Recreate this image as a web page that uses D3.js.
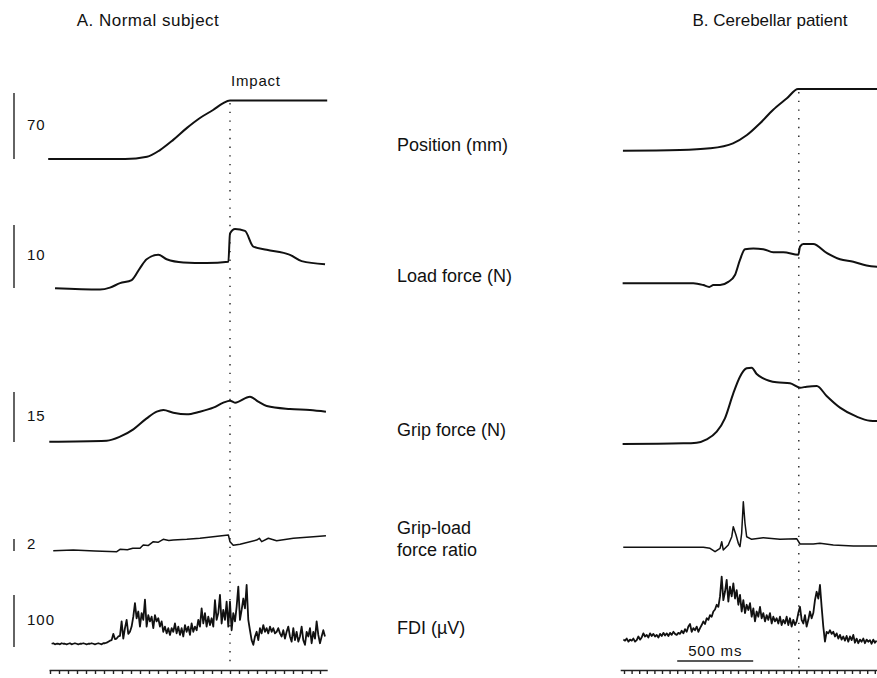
<!DOCTYPE html>
<html>
<head>
<meta charset="utf-8">
<script src="https://cdn.jsdelivr.net/npm/d3@7"></script>
<style>
  body { margin: 0; background: #fff; }
  text { font-family: "Liberation Sans", Arial, sans-serif; fill: #111; }
</style>
</head>
<body>
<script>
// time in ms from start of trace, values in the row's units
const impactA = 1000, impactB = 1150;

const positionA = [[-10,0],[417,0],[539,2.4],[611,9.5],[683,20],[761,33],[833,43.5],[906,52],[960,59],[1000,62],[1540,62]];
const positionB = [[-7,8.8],[368,9.5],[566,11.3],[717,16.6],[809,25.4],[895,37.9],[980,52],[1072,64.4],[1145,74.2],[1670,74.2]];

const loadA = [[28,0.6],[278,0.4],[333,0.7],[389,1.4],[454,1.9],[500,3.8],[537,5.2],[602,5.9],[648,5.2],[741,4.7],[870,4.6],[991,4.8],[1000,9.3],[1028,10.0],[1083,9.7],[1130,7.2],[1204,6.7],[1333,5.9],[1398,4.9],[1528,4.4]];
const loadB = [[-9,1.4],[456,1.4],[522,1.1],[561,0.8],[588,1.1],[632,1.1],[686,1.6],[730,2.7],[763,5.1],[796,6.8],[851,6.9],[916,6.8],[982,6.3],[1048,6.3],[1147,5.9],[1158,7.2],[1180,7.6],[1245,7.6],[1333,6.2],[1421,5.2],[1509,4.8],[1596,4.2],[1670,4.0]];

const gripA = [[-4,1.3],[315,1.6],[389,2.8],[463,5.0],[537,8.3],[593,10.3],[630,10.8],[685,10.0],[759,9.5],[833,10.3],[907,11.5],[963,13.0],[1000,13.6],[1028,13.0],[1111,14.8],[1157,13.3],[1204,12.0],[1333,11.1],[1444,10.8],[1533,10.3]];
const gripB = [[-9,0.6],[390,0.8],[478,1.0],[544,2.0],[610,4.3],[664,8.3],[719,15.8],[763,20.8],[807,23.3],[840,23.5],[873,21.6],[916,20.3],[1004,19.1],[1092,18.8],[1158,17.5],[1202,17.8],[1268,18.0],[1333,15.0],[1421,11.5],[1531,8.8],[1618,7.6],[1670,7.5]];

const ratioA = [[18,2.05],[129,2.17],[250,2.0],[371,1.88],[389,2.28],[430,2.2],[460,2.45],[500,2.45],[518,3.0],[545,2.9],[574,3.55],[600,3.45],[629,3.95],[660,3.75],[685,3.83],[760,3.95],[833,4.12],[991,4.67],[1000,3.55],[1018,2.95],[1056,3.12],[1148,3.83],[1163,4.12],[1176,3.55],[1213,4.12],[1259,3.72],[1352,4.12],[1463,4.38],[1533,4.55]];
const ratioB = [[-5,2.62],[522,2.62],[566,2.45],[599,1.88],[632,2.45],[643,3.55],[653,2.17],[686,3.0],[709,4.38],[719,6.05],[737,4.67],[752,3.28],[763,2.72],[774,4.95],[785,10.2],[796,6.62],[807,4.38],[840,3.95],[916,4.22],[1026,3.95],[1136,4.05],[1158,3.17],[1245,3.17],[1289,3.28],[1377,3.0],[1509,2.83],[1670,2.83]];

// FDI EMG, sampled on a regular grid
const fdiAStart = 9, fdiAStep = 9.26;
const fdiA = [12,13,11,12,12,11,13,12,12,11,12,13,11,12,13,12,11,12,12,13,12,11,12,12,13,12,11,12,13,12,11,13,
  13,14,16,18,19,31,21,22,26,27, 55,22,42,58,31,35,45,64,90,61, 74,45,71,58,97,45,67,55,64,42,
  67,55,61,45,55,35,45,32,42,29, 42,35,51,32,45,29,42,26,48,35, 45,29,51,35,45,38,58,45,80,51,
  71,45,64,48,61,45,96,58,71,106, 51,77,58,93,45,93,38,71,55,83, 122,58,77,99,80,125,58,38,19,10,
  26,35,19,42,32,48,35,42,32,45, 35,42,32,35,42,32,26,38,22,35, 45,26,16,42,19,35,16,26,45,19,
  10,35,26,42,13,35,22,55,29,13, 26,38,26];
const fdiBStart = -4, fdiBStep = 10.96;
const fdiB = [20,18,22,16,20,18,22,16,19,26, 20,24,32,26,29,24,32,27,31,26, 29,24,31,27,33,28,32,27,33,29,
  35,31,29,33,31,37,32,40,35,45, 50,35,42,38,45,35,42,48,55,50, 61,58,67,64,74,78,87,83,103,141,
  96,112,135,93,122,103,128,99,115,87, 106,74,96,71,87,77,90,64,80,55, 74,64,83,61,71,55,67,58,71,51,
  64,55,61,51,64,48,58,51,64,48, 61,45,58,48,55,71,83,58,51,67, 45,58,74,61,71,96,112,99,125,83,
  45,16,35,32,38,31,35,26,32,22, 29,20,26,18,27,16,26,19,29,14, 22,13,20,16,22,13,20,16,19,12,
  20,14,18];

const scaleLabels = ["70", "10", "15", "2", "100"];
const rowLabels = [["Position (mm)"], ["Load force (N)"], ["Grip force (N)"], ["Grip-load", "force ratio"], ["FDI (\u00b5V)"]];
const titles = ["A. Normal subject", "B. Cerebellar patient"];

const width = 877, height = 678;
const svg = d3.select("body").append("svg")
  .attr("width", width).attr("height", height);
svg.append("rect").attr("width", width).attr("height", height).attr("fill", "#fff");

const xA = d3.scaleLinear().domain([0, 1500]).range([50, 320]);
const xB = d3.scaleLinear().domain([0, 1000]).range([624, 776]);

const toPts = (vals, t0, dt) => vals.map((v, i) => [t0 + i * dt, v]);

const rows = [
  { bar: 70,  barPx: 66, yZero: 159, barBottom: 159, labelY: 151, a: positionA, b: positionB, curve: d3.curveMonotoneX, sw: 2 },
  { bar: 10,  barPx: 63, yZero: 292, barBottom: 288, labelY: 282, a: loadA, b: loadB, curve: d3.curveMonotoneX, sw: 2 },
  { bar: 15,  barPx: 50, yZero: 446, barBottom: 442, labelY: 436, a: gripA, b: gripB, curve: d3.curveMonotoneX, sw: 2 },
  { bar: 2,   barPx: 12, yZero: 563, barBottom: 551, labelY: 534, a: ratioA, b: ratioB, curve: d3.curveLinear, sw: 1.5 },
  { bar: 100, barPx: 52, yZero: 650, barBottom: 647, labelY: 634, a: toPts(fdiA, fdiAStart, fdiAStep), b: toPts(fdiB, fdiBStart, fdiBStep), curve: d3.curveLinear, sw: 1.8 }
];

// titles
svg.append("text").attr("x", 148).attr("y", 26).attr("text-anchor", "middle")
  .style("font-size", "17px").style("letter-spacing", "0.5px").text(titles[0]);
svg.append("text").attr("x", 770).attr("y", 26).attr("text-anchor", "middle")
  .style("font-size", "17px").text(titles[1]);

// impact markers
[[xA(impactA), 103], [xB(impactB), 92]].forEach(([x, y1]) => {
  svg.append("line").attr("x1", x).attr("x2", x).attr("y1", y1).attr("y2", 668)
    .attr("stroke", "#222").attr("stroke-width", 1.4).attr("stroke-dasharray", "1.4,7.3");
});
svg.append("text").attr("x", xA(impactA) + 1).attr("y", 86)
  .style("font-size", "15px").style("letter-spacing", "0.8px").text("Impact");

rows.forEach((r, i) => {
  const y = d3.scaleLinear().domain([0, r.bar]).range([r.yZero, r.yZero - r.barPx]);
  const len = y(0) - y(r.bar);

  // calibration bar + number
  svg.append("line").attr("x1", 14).attr("x2", 14)
    .attr("y1", r.barBottom).attr("y2", r.barBottom - len)
    .attr("stroke", "#222").attr("stroke-width", 1.4);
  svg.append("text").attr("x", 27).attr("y", r.barBottom - len / 2)
    .attr("dominant-baseline", "middle").style("font-size", "15px")
    .style("letter-spacing", "1px").text(scaleLabels[i]);

  // middle label
  rowLabels[i].forEach((s, k) => {
    svg.append("text").attr("x", 397).attr("y", r.labelY + k * 22)
      .style("font-size", "18px").text(s);
  });

  const lineA = d3.line().x(d => xA(d[0])).y(d => y(d[1])).curve(r.curve);
  const lineB = d3.line().x(d => xB(d[0])).y(d => y(d[1])).curve(r.curve);
  svg.append("path").attr("d", lineA(r.a)).attr("fill", "none")
    .attr("stroke", "#111").attr("stroke-width", r.sw).attr("stroke-linejoin", "round");
  svg.append("path").attr("d", lineB(r.b)).attr("fill", "none")
    .attr("stroke", "#111").attr("stroke-width", r.sw).attr("stroke-linejoin", "round");
});

// time axes, 50 ms ticks
const axA = xA.copy().domain([-5, 1540]).range([xA(-5), xA(1540)]);
svg.append("g").attr("transform", "translate(0,670)")
  .call(d3.axisBottom(axA).tickValues(d3.range(0, 1501, 50)).tickSize(4).tickSizeOuter(0).tickFormat(""))
  .call(g => g.selectAll("path,line").attr("stroke", "#222").attr("stroke-width", 1.4));
const axB = xB.copy().domain([-25, 1670]).range([xB(-25), xB(1670)]);
svg.append("g").attr("transform", "translate(0,670)")
  .call(d3.axisBottom(axB).tickValues(d3.range(0, 1670, 50)).tickSize(4).tickSizeOuter(0).tickFormat(""))
  .call(g => g.selectAll("path,line").attr("stroke", "#222").attr("stroke-width", 1.4));

// 500 ms calibration
svg.append("line").attr("x1", xB(350)).attr("x2", xB(850)).attr("y1", 661).attr("y2", 661)
  .attr("stroke", "#222").attr("stroke-width", 1.4);
svg.append("text").attr("x", xB(600)).attr("y", 656).attr("text-anchor", "middle")
  .style("font-size", "15px").style("letter-spacing", "0.8px").text("500 ms");
</script>
</body>
</html>
